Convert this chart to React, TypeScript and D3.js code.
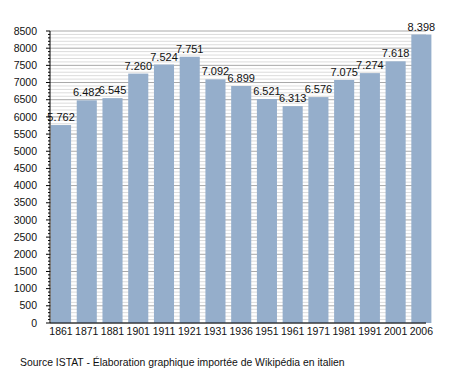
import React from 'react'
import * as d3 from 'd3'

const years = ['1861', '1871', '1881', '1901', '1911', '1921', '1931', '1936', '1951', '1961', '1971', '1981', '1991', '2001', '2006']
const population = [5762, 6482, 6545, 7260, 7524, 7751, 7092, 6899, 6521, 6313, 6576, 7075, 7274, 7618, 8398]
const majorTicks = d3.range(0, 8501, 500)
const minorTicks = d3.range(0, 8501, 100)

const W = 455
const H = 373
const left = 50
const right = 426
const top = 31
const bottom = 323

const fmt = (v: number) => d3.format(',')(v).replace(',', '.')

export default function App() {
  const x = d3.scaleBand<string>()
    .domain(years)
    .range([51, 431.4])
    .paddingInner(0.22)
    .paddingOuter(0)
    .align(0)

  const y = d3.scaleLinear()
    .domain([0, 8500])
    .range([bottom, top])

  const font = 'Liberation Sans, Arial, sans-serif'

  return (
    <svg width={W} height={H} style={{ position: 'absolute', left: 0, top: 0, background: '#fff' }} fontFamily={font}>
      {/* grid */}
      {minorTicks.filter(t => t % 500 !== 0).map(t => (
        <line key={'m' + t} x1={left} x2={right} y1={y(t)} y2={y(t)} stroke='#dcdcdc' strokeWidth={1} />
      ))}
      {majorTicks.map(t => (
        <line key={'M' + t} x1={left} x2={right} y1={y(t)} y2={y(t)} stroke='#a8a8a8' strokeWidth={1} />
      ))}

      {/* bars */}
      {years.map((yr, i) => (
        <rect key={yr} x={x(yr)} y={y(population[i])} width={x.bandwidth()} height={bottom - y(population[i])} fill='#95aecb' />
      ))}

      {/* value labels */}
      {years.map((yr, i) => (
        <text key={'v' + yr} x={(x(yr) as number) + x.bandwidth() / 2} y={y(population[i]) - 4}
          textAnchor='middle' fontSize={11} fill='#111'>{fmt(population[i])}</text>
      ))}

      {/* y axis */}
      <line x1={left} x2={left} y1={top} y2={bottom} stroke='#000' />
      {minorTicks.map(t => (
        <line key={'tk' + t} x1={t % 500 === 0 ? left - 4 : left - 2} x2={left} y1={y(t)} y2={y(t)} stroke='#000' />
      ))}
      {majorTicks.map(t => (
        <text key={'yl' + t} x={37} y={y(t)} dy='0.35em' textAnchor='end' fontSize={10.5} fill='#111'>{t}</text>
      ))}

      {/* x axis */}
      <line x1={left} x2={right} y1={bottom} y2={bottom} stroke='#000' />
      {years.map(yr => (
        <text key={'xl' + yr} x={(x(yr) as number) + x.bandwidth() / 2} y={335}
          textAnchor='middle' fontSize={10.5} fill='#111'>{yr}</text>
      ))}

      <text x={20} y={366} fontSize={10.4} fill='#111'>Source ISTAT - Élaboration graphique importée de Wikipédia en italien</text>
    </svg>
  )
}
